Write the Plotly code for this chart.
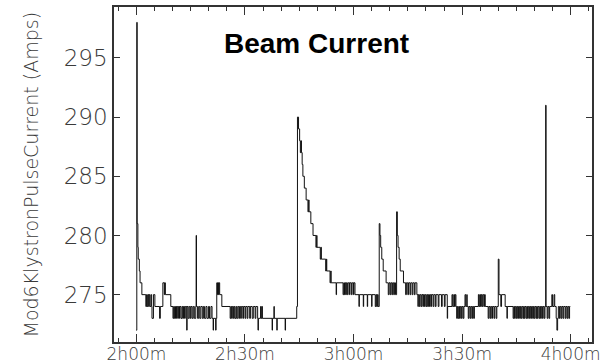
import plotly.graph_objects as go

# time in minutes after 0h00m, current in Amps
t_min = [
    119.9, 120.1, 120.2, 120.4, 120.5, 120.8, 121.0, 121.5, 122.6, 122.8,
    123.0, 123.2, 123.4, 123.5, 123.7, 124.0, 124.2, 124.3, 124.7, 125.1,
    126.4, 126.6, 127.3, 127.7, 127.8, 128.0, 129.5, 130.1, 130.3, 130.5,
    130.8, 131.0, 131.1, 131.4, 131.6, 131.9, 132.0, 132.3, 132.6, 132.8,
    133.0, 133.3, 133.5, 133.9, 134.0, 134.3, 134.6, 134.9, 135.1, 135.4,
    135.7, 136.0, 136.4, 136.5, 136.6, 136.9, 137.2, 137.5, 137.8, 138.2,
    138.5, 138.8, 139.2, 139.5, 139.9, 140.2, 140.6, 140.9, 141.2, 141.3,
    141.9, 142.0, 142.2, 142.4, 142.5, 142.7, 142.8, 143.0, 143.6, 145.9,
    146.1, 146.3, 146.5, 146.8, 147.0, 147.2, 147.5, 147.7, 148.0, 148.3,
    148.5, 148.8, 149.0, 149.4, 149.6, 150.0, 150.2, 150.6, 150.8, 151.3,
    151.5, 152.0, 152.3, 152.8, 153.0, 153.5, 153.6, 153.7, 154.3, 154.5,
    154.7, 154.8, 157.5, 157.6, 158.0, 158.1, 158.8, 158.9, 161.1, 161.2,
    164.3, 164.5, 164.8, 165.1, 165.3, 165.5, 165.6, 165.8, 166.0, 166.4,
    166.9, 167.4, 167.6, 167.7, 168.2, 168.8, 169.6, 169.8, 169.9, 170.8,
    171.0, 171.1, 172.3, 172.5, 172.6, 173.5, 173.7, 173.8, 175.2, 175.3,
    177.1, 177.3, 177.5, 177.7, 177.9, 178.0, 178.3, 178.5, 178.9, 179.0,
    179.4, 179.6, 180.0, 180.1, 180.4, 181.5, 181.6, 182.7, 182.8, 183.8,
    183.9, 185.0, 185.1, 186.0, 186.2, 186.4, 186.6, 186.8, 187.1, 187.3,
    187.5, 187.8, 188.2, 189.0, 189.6, 189.8, 190.1, 190.3, 190.6, 190.8,
    191.1, 191.3, 191.6, 191.9, 192.1, 192.3, 192.6, 192.9, 193.8, 194.4,
    194.6, 195.0, 195.2, 195.6, 195.8, 196.2, 196.4, 196.8, 197.0, 197.5,
    197.8, 197.9, 198.2, 198.4, 198.7, 198.9, 199.2, 199.3, 199.6, 199.8,
    200.1, 200.3, 200.5, 200.7, 201.0, 201.2, 201.5, 201.6, 202.0, 202.2,
    202.6, 202.8, 203.4, 203.6, 204.3, 204.5, 205.1, 205.3, 205.9, 206.0,
    207.2, 207.4, 207.7, 207.9, 208.1, 208.3, 208.5, 208.7, 208.9, 209.1,
    209.3, 209.5, 209.8, 210.0, 210.3, 210.5, 210.8, 211.0, 211.3, 211.4,
    211.7, 211.9, 212.2, 212.4, 212.7, 212.9, 213.2, 213.4, 214.5, 214.7,
    214.9, 215.1, 215.3, 215.5, 215.7, 216.0, 216.2, 216.4, 217.2, 217.4,
    217.7, 217.9, 218.2, 218.4, 218.8, 219.0, 219.4, 219.6, 220.0, 220.2,
    220.7, 220.9, 221.9, 222.4, 222.5, 224.1, 224.3, 224.5, 224.7, 225.0,
    225.2, 225.4, 225.6, 225.9, 226.1, 226.3, 226.5, 226.8, 227.0, 227.2,
    227.4, 227.7, 227.9, 228.1, 228.3, 228.6, 228.8, 229.0, 229.2, 229.5,
    229.7, 229.9, 230.1, 230.4, 230.6, 230.8, 231.0, 231.3, 231.5, 231.7,
    231.9, 232.2, 232.4, 232.7, 232.9, 233.1, 233.2, 233.5, 233.7, 234.0,
    234.2, 234.8, 235.0, 235.4, 235.6, 236.0, 236.2, 236.4, 236.6, 236.9,
    237.1, 237.4, 237.6, 237.9, 238.1, 238.5, 238.7, 239.0, 239.2, 239.5,
    239.7, 239.9,
]
amps = [
    272, 298, 281, 279, 278, 277, 276, 275, 274, 275,
    274, 275, 274, 275, 274, 275, 274, 273, 275, 274,
    273, 274, 276, 275, 276, 275, 274, 273, 274, 273,
    274, 273, 274, 273, 274, 273, 274, 273, 274, 273,
    274, 273, 274, 272, 274, 273, 274, 273, 274, 273,
    274, 273, 274, 280, 274, 273, 274, 273, 274, 273,
    274, 273, 274, 273, 274, 273, 274, 273, 272, 273,
    272, 273, 276, 275, 276, 275, 276, 275, 274, 273,
    274, 273, 274, 273, 274, 273, 274, 273, 274, 273,
    274, 273, 274, 273, 274, 273, 274, 273, 274, 273,
    274, 273, 274, 273, 274, 273, 272, 273, 274, 273,
    274, 273, 272, 273, 274, 273, 272, 273, 272, 273,
    274, 290, 289, 288, 287, 288, 287, 286, 285, 284,
    283, 282, 283, 282, 281, 280, 279, 280, 279, 278,
    279, 278, 277, 278, 277, 276, 277, 276, 275, 276,
    275, 276, 275, 276, 275, 276, 275, 276, 275, 276,
    275, 276, 275, 276, 275, 274, 275, 274, 275, 274,
    275, 274, 275, 274, 275, 274, 275, 274, 281, 280,
    279, 278, 277, 276, 275, 276, 275, 276, 275, 276,
    275, 276, 275, 282, 280, 279, 278, 277, 276, 275,
    276, 275, 276, 275, 276, 275, 276, 275, 276, 275,
    274, 275, 274, 275, 274, 275, 274, 275, 274, 275,
    274, 275, 274, 275, 274, 275, 274, 275, 274, 275,
    274, 275, 274, 275, 274, 275, 274, 275, 273, 274,
    275, 274, 275, 274, 275, 274, 273, 274, 273, 274,
    273, 274, 273, 274, 273, 274, 275, 274, 275, 274,
    273, 274, 273, 274, 273, 274, 273, 274, 275, 274,
    275, 274, 275, 274, 275, 274, 275, 274, 273, 274,
    273, 274, 273, 274, 273, 274, 273, 274, 278, 275,
    274, 275, 274, 273, 274, 273, 274, 273, 274, 273,
    274, 273, 274, 273, 274, 273, 274, 273, 274, 273,
    274, 273, 274, 273, 274, 273, 274, 273, 274, 273,
    274, 273, 274, 273, 274, 273, 274, 273, 274, 273,
    274, 273, 274, 273, 274, 291, 274, 273, 274, 273,
    274, 275, 274, 275, 274, 273, 272, 273, 274, 273,
    274, 273, 274, 273, 274, 273, 274, 273, 274, 273,
    274, 274,
]

x_tick_minutes = [120, 150, 180, 210, 240]
x_tick_labels = ["2h00m", "2h30m", "3h00m", "3h30m", "4h00m"]
y_tick_values = [275, 280, 285, 290, 295]
y_title = "Mod6KlystronPulseCurrent (Amps)"
chart_title = "Beam Current"

AX = "#333333"
TXT = "#3a3a3a"

fig = go.Figure(
    go.Scatter(
        x=t_min, y=amps, mode="lines",
        line=dict(color="#111111", width=1, shape="hv"),
        hoverinfo="skip",
    )
)

fig.update_layout(
    width=612, height=363,
    margin=dict(l=114, r=20, t=7, b=21),
    plot_bgcolor="white", paper_bgcolor="white",
    showlegend=False,
)

fig.update_xaxes(
    range=[113.8, 245.9],
    tickmode="array", tickvals=x_tick_minutes, ticktext=x_tick_labels,
    ticks="inside", ticklen=8, tickwidth=1, tickcolor=AX,
    minor=dict(tick0=0, dtick=5, ticks="inside", ticklen=4, tickwidth=1, tickcolor=AX),
    showline=True, linecolor=AX, linewidth=1.5, mirror="ticks",
    showgrid=False, zeroline=False, automargin=False,
    ticklabelstandoff=-4,
    tickfont=dict(family="DejaVu Sans", size=17, color=TXT, weight=200),
)
fig.update_yaxes(
    range=[271.0, 299.3],
    tickmode="array", tickvals=y_tick_values,
    ticks="inside", ticklen=6, tickwidth=1, tickcolor=AX,
    showline=True, linecolor=AX, linewidth=1.5, mirror="ticks",
    showgrid=False, zeroline=False, automargin=False,
    tickfont=dict(family="DejaVu Sans", size=23, color=TXT, weight=200),
)

fig.add_annotation(
    text=y_title, textangle=-90,
    xref="paper", yref="paper", x=-0.1757, y=0.5,
    xanchor="center", yanchor="middle", showarrow=False,
    font=dict(family="DejaVu Sans", size=19, color=TXT, weight=200),
)
fig.add_annotation(
    text="<b>" + chart_title + "</b>",
    xref="paper", yref="paper", x=0.4226, y=0.8896,
    xanchor="center", yanchor="middle", showarrow=False,
    font=dict(family="Liberation Sans", size=28, color="black"),
)

fig.write_html("out.html")
